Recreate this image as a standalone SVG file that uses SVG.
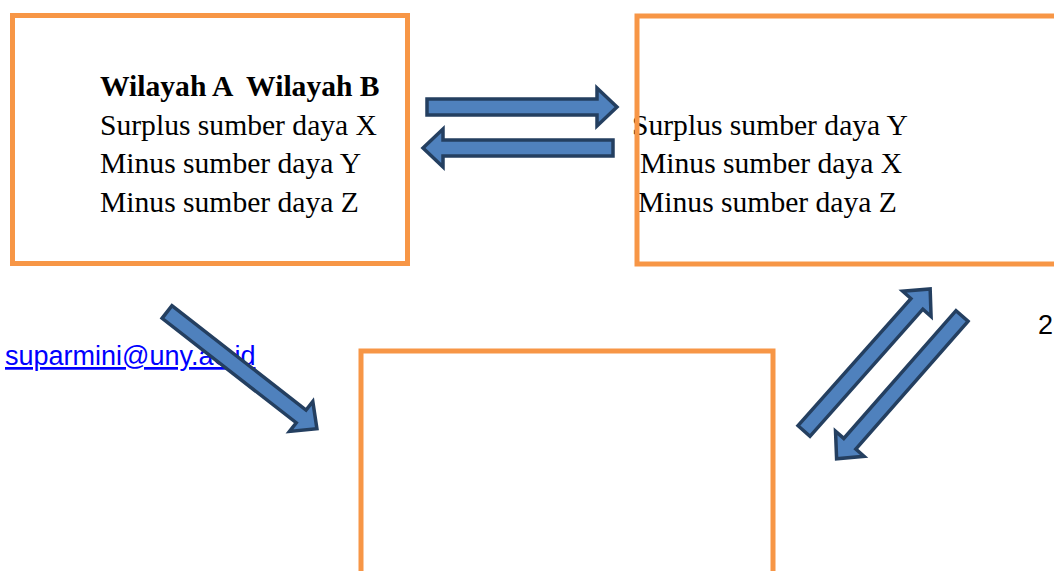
<svg xmlns="http://www.w3.org/2000/svg" width="1054" height="571" viewBox="0 0 1054 571">
  <style>
    .box { fill: none; stroke: #F79646; stroke-width: 5; }
    .t { font-family: "Liberation Serif", "Times New Roman", serif; font-size: 29.6px; fill: #000; }
    .b { font-weight: bold; }
    .arr { fill: #4F81BD; stroke: #243F60; stroke-width: 3.5; stroke-linejoin: miter; }
    .mail { font-family: "Liberation Sans", Arial, sans-serif; font-size: 27px; fill: #0000FF; text-decoration: underline; }
    .num { font-family: "Liberation Sans", Arial, sans-serif; font-size: 27px; fill: #000; }
  </style>
  <defs>
    <path id="arrow" d="M0,-8 H170 V-19 L190,0 L170,19 V8 H0 Z"/>
  </defs>
  <rect width="1054" height="571" fill="#fff"/>

  <text class="mail" x="5" y="365">suparmini@uny.ac.id</text>
  <text class="num" x="1038" y="334">2</text>

  <g id="wilayah-a">
    <rect class="box" x="12.5" y="15.5" width="395" height="248"/>
    <text class="t b" x="100" y="96" xml:space="preserve">Wilayah A  Wilayah B</text>
    <text class="t" x="100" y="134.5">Surplus sumber daya X</text>
    <text class="t" x="100" y="173">Minus sumber daya Y</text>
    <text class="t" x="100" y="211.5">Minus sumber daya Z</text>
  </g>

  <g id="wilayah-b">
    <text class="t" x="632" y="134.5">Surplus sumber daya Y</text>
    <text class="t" x="640" y="173">Minus sumber daya X</text>
    <text class="t" x="638" y="211.5">Minus sumber daya Z</text>
    <rect class="box" x="637" y="16" width="500" height="248"/>
  </g>

  <g id="wilayah-c">
    <rect class="box" x="361" y="351" width="412" height="300"/>
  </g>

  <g id="connectors">
    <use href="#arrow" class="arr" transform="translate(427,107)"/>
    <use href="#arrow" class="arr" transform="translate(613,148) rotate(180)"/>
    <use href="#arrow" class="arr" transform="translate(167,312) rotate(37.9)"/>
    <use href="#arrow" class="arr" transform="translate(804,431) rotate(-48.4)"/>
    <use href="#arrow" class="arr" transform="translate(962,316) rotate(131.3)"/>
  </g>
</svg>
